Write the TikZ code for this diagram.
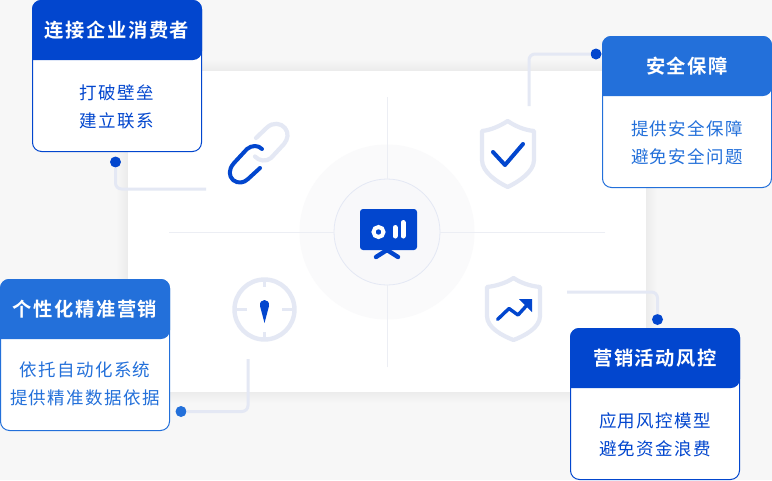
\documentclass[tikz,border=0pt]{standalone}
\usepackage{fontspec}
\setmainfont{Noto Sans CJK SC}
\newfontfamily\bodyfont[LetterSpace=8]{Noto Sans CJK SC}
\newfontfamily\titlefont[LetterSpace=8]{Noto Sans CJK SC Bold}
\definecolor{deepblue}{HTML}{0246CE}
\definecolor{midblue}{HTML}{2370DA}
\definecolor{pale}{HTML}{E4E8F4}
\definecolor{pagebg}{HTML}{F7F7F7}
\definecolor{halo}{HTML}{FAFAFB}
\definecolor{hub}{HTML}{F8F8FA}
\definecolor{hair}{HTML}{ECEEF4}
\tikzset{
  cardbox/.style={draw=#1,fill=white,line width=1pt,rounded corners=9pt,minimum width=169pt,minimum height=151pt,inner sep=0pt,outer sep=0pt},
  headtext/.style={text=white,font=\titlefont\fontsize{19.3}{22}\selectfont,inner sep=0pt},
  bodytext/.style={text=#1,font=\bodyfont\fontsize{17.5}{28}\selectfont,align=center,inner sep=0pt},
  dotnode/.style={circle,fill=#1,minimum size=11pt,inner sep=0pt,outer sep=0pt},
  wire/.style={draw=pale,line width=3pt,rounded corners=6pt},
  paleline/.style={draw=pale,line width=4.2pt,line join=round,line cap=round},
  blueline/.style={draw=deepblue,line width=4pt,line join=round,line cap=round},
  hairline/.style={draw=hair,line width=1pt},
}
\begin{document}
\begin{tikzpicture}[x=1pt,y=-1pt]
\useasboundingbox (0,0) rectangle (772,480);
\fill[pagebg] (0,0) rectangle (772,480);
% panel with soft shadow
\foreach \i in {1,...,30}{
  \pgfmathsetmacro{\shadeop}{0.0032*(1-\i/31)}
  \fill[black,opacity=\shadeop,rounded corners=\i pt] (128-\i,71-\i) rectangle (646+\i,392+\i);
}
\node[fill=white,minimum width=518pt,minimum height=321pt,inner sep=0pt,outer sep=0pt] (panel) at (387,231.5) {};
% central hub
\node[circle,fill=halo,minimum size=175pt,inner sep=0pt] (halo) at (387,232) {};
\coordinate (n) at (387,97); \coordinate (s) at (387,367);
\coordinate (w) at (169,232); \coordinate (e) at (605,232);
\node[circle,fill=hub,draw=pale,line width=0.8pt,minimum size=106pt,inner sep=0pt,outer sep=0pt] (hubc) at (387,232) {};
\draw[hairline] (n) -- (hubc); \draw[hairline] (s) -- (hubc);
\draw[hairline] (w) -- (hubc); \draw[hairline] (e) -- (hubc);
% monitor icon
\fill[deepblue,rounded corners=3pt] (360,209) rectangle (417,250);
\draw[deepblue,line width=4.4pt,line cap=round] (387,250) -- (376,257) (387,250) -- (398,257);
\draw[white,line width=4pt] (378.5,232) circle (5);
\draw[white,line width=5pt,line cap=round] (395,227.5) -- (395,236);
\draw[white,line width=5pt,line cap=round] (403,222.5) -- (403,236);
% link icon
\draw[paleline] (256,138) -- (267,127.5) .. controls (273,122) and (281,123) .. (285,128) .. controls (289,133) and (288,139) .. (284,144) -- (271,158) .. controls (266,162) and (259,161) .. (255,156.5);
\draw[blueline] (262,149) .. controls (258,145) and (252,145) .. (247,149) -- (234,163) .. controls (228,170) and (229,176) .. (233,180) .. controls (238,184) and (244,183) .. (248,179) -- (260,168);
% shield with tick
\draw[paleline] (507.7,121) .. controls (500,126) and (491,130) .. (482,131) -- (482,160) .. controls (482,172) and (497,182) .. (507.7,187) .. controls (518,182) and (534,172) .. (534,160) -- (534,131) .. controls (524,130) and (515,126) .. (507.7,121) -- cycle;
\draw[blueline] (493,152) -- (505,165) -- (523,144);
% shield with arrow
\draw[paleline] (513.5,278) .. controls (506,283) and (496,286) .. (487,287) -- (487,316) .. controls (487,328) and (503,336) .. (513.5,340) .. controls (524,336) and (540,328) .. (540,316) -- (540,287) .. controls (530,286) and (521,283) .. (513.5,278) -- cycle;
\draw[draw=deepblue,line width=3.4pt,line join=round,line cap=round] (497.5,319.5) -- (509,308.5) -- (518,315) -- (528,304);
\fill[deepblue] (519,299) -- (532,299) -- (532,312) -- cycle;
% compass
\draw[draw=pale,line width=4.4pt] (264.5,309.5) circle (30);
\draw[draw=pale,line width=3.4pt] (264.5,280) -- (264.5,287) (264.5,332) -- (264.5,339) (235,309.5) -- (247,309.5) (282,309.5) -- (294,309.5);
\fill[deepblue] (264.5,323) -- (260,306) .. controls (259,298) and (270,298) .. (269,306) -- cycle;
% card 1
\node[cardbox=deepblue] (card1) at (117,76) {};
\fill[deepblue,rounded corners=9pt] (32,60) -- (32,0) -- (202,0) -- (202,60) [sharp corners] -- cycle;
\node[headtext] (head1) at (117,30) {连接企业消费者};
\node[bodytext=deepblue] (text1) at (117,106.5) {打破壁垒\\建立联系};
\node[dotnode=deepblue] (dot1) at (115.5,162) {};
\coordinate (end1) at (206,189);
\draw[wire] (dot1) |- (end1);
% card 2
\node[cardbox=midblue] (card2) at (687,112) {};
\fill[midblue,rounded corners=9pt] (602,96) -- (602,36) -- (772,36) -- (772,96) [sharp corners] -- cycle;
\node[headtext] (head2) at (687,66) {安全保障};
\node[bodytext=midblue] (text2) at (687,142.5) {提供安全保障\\避免安全问题};
\node[dotnode=deepblue] (dot2) at (596,54) {};
\coordinate (end2) at (529,106);
\draw[wire] (dot2) -| (end2);
% card 3
\node[cardbox=midblue] (card3) at (85,355) {};
\fill[midblue,rounded corners=9pt] (0,339) -- (0,279) -- (170,279) -- (170,339) [sharp corners] -- cycle;
\node[headtext] (head3) at (85,309) {个性化精准营销};
\node[bodytext=midblue] (text3) at (85,384) {依托自动化系统\\提供精准数据依据};
\node[dotnode=midblue] (dot3) at (181,411.5) {};
\coordinate (end3) at (248,359);
\draw[wire] (dot3) -| (end3);
% card 4
\node[cardbox=deepblue] (card4) at (655,404) {};
\fill[deepblue,rounded corners=9pt] (570,388) -- (570,328) -- (740,328) -- (740,388) [sharp corners] -- cycle;
\node[headtext] (head4) at (655,358.5) {营销活动风控};
\node[bodytext=deepblue] (text4) at (655,434.5) {应用风控模型\\避免资金浪费};
\node[dotnode=deepblue] (dot4) at (657.5,319.5) {};
\coordinate (end4) at (567,292);
\draw[wire] (dot4) |- (end4);
\end{tikzpicture}
\end{document}
